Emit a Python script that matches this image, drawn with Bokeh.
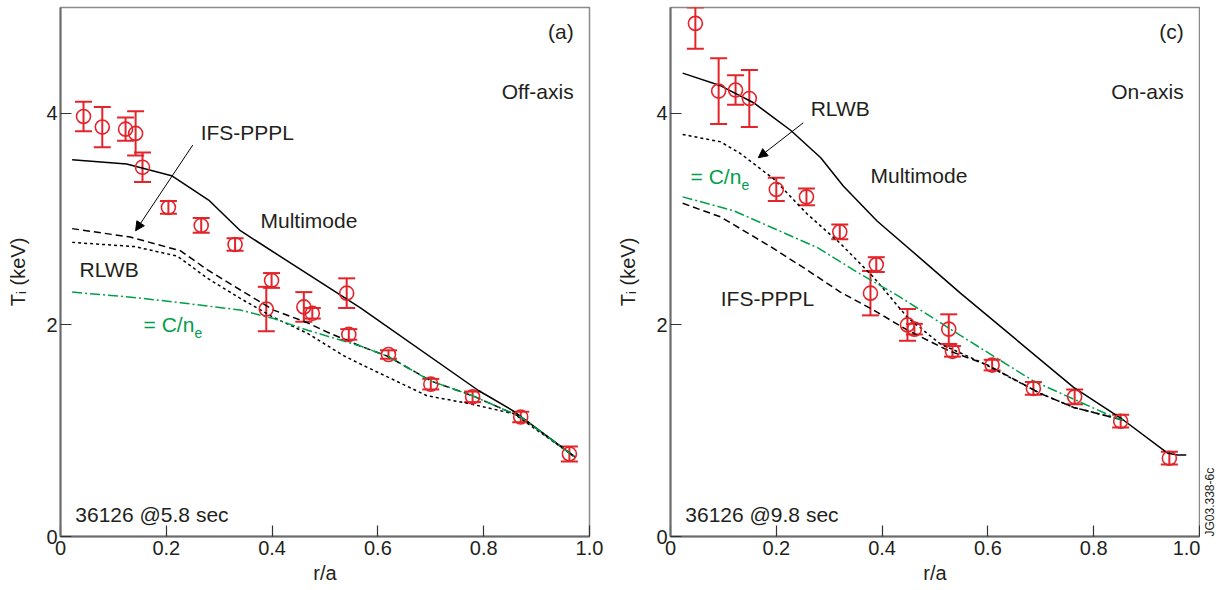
import math
from bokeh.plotting import figure
from bokeh.layouts import row
from bokeh.models import (ColumnDataSource, Whisker, TeeHead, Label, Arrow,
                          NormalHead, FixedTicker, Range1d, Title)
from bokeh.embed import file_html
from bokeh.resources import INLINE

# ---------------- data: panel (a) Off-axis, 36126 @5.8 sec ----------------
a_r = [0.0435, 0.079, 0.123, 0.142, 0.155, 0.204, 0.266, 0.330, 0.389, 0.399,
       0.460, 0.476, 0.541, 0.545, 0.620, 0.700, 0.779, 0.870, 0.962]
a_ti = [3.97, 3.87, 3.85, 3.81, 3.49, 3.11, 2.94, 2.76, 2.15, 2.42,
        2.17, 2.11, 2.30, 1.91, 1.72, 1.44, 1.32, 1.13, 0.78]
a_err = [0.14, 0.19, 0.11, 0.21, 0.14, 0.06, 0.07, 0.06, 0.21, 0.07,
         0.14, 0.05, 0.14, 0.05, 0.04, 0.05, 0.05, 0.05, 0.07]

a_mm_r = [0.022, 0.125, 0.21, 0.28, 0.34, 0.567, 0.79, 0.855, 0.973]
a_mm_ti = [3.56, 3.52, 3.41, 3.18, 2.89, 2.16, 1.38, 1.19, 0.75]

a_ifs_r = [0.022, 0.132, 0.227, 0.278, 0.34, 0.403, 0.467, 0.505, 0.567, 0.62,
           0.70, 0.779, 0.87, 0.973]
a_ifs_ti = [2.91, 2.83, 2.70, 2.52, 2.33, 2.14, 2.02, 1.93, 1.80, 1.70,
            1.47, 1.33, 1.13, 0.75]

a_rlwb_r = [0.022, 0.14, 0.221, 0.278, 0.34, 0.403, 0.467, 0.535, 0.567, 0.693,
            0.769, 0.857, 0.973]
a_rlwb_ti = [2.78, 2.74, 2.65, 2.44, 2.25, 2.07, 1.92, 1.71, 1.63, 1.33,
             1.26, 1.16, 0.75]

a_cn_r = [0.022, 0.138, 0.227, 0.34, 0.403, 0.467, 0.567, 0.62, 0.70, 0.779,
          0.87, 0.973]
a_cn_ti = [2.31, 2.26, 2.21, 2.14, 2.06, 1.95, 1.80, 1.70, 1.47, 1.33,
           1.13, 0.75]

# ---------------- data: panel (c) On-axis, 36126 @9.8 sec ----------------
c_r = [0.047, 0.091, 0.123, 0.149, 0.200, 0.257, 0.320, 0.389, 0.378, 0.448,
       0.461, 0.526, 0.533, 0.608, 0.686, 0.764, 0.851, 0.943]
c_ti = [4.85, 4.21, 4.22, 4.14, 3.28, 3.21, 2.88, 2.57, 2.30, 2.00,
        1.96, 1.96, 1.75, 1.62, 1.40, 1.32, 1.09, 0.74]
c_err = [0.24, 0.31, 0.14, 0.27, 0.11, 0.08, 0.07, 0.07, 0.21, 0.15,
         0.05, 0.14, 0.05, 0.05, 0.06, 0.07, 0.06, 0.06]

c_mm_r = [0.023, 0.095, 0.157, 0.227, 0.284, 0.327, 0.391, 0.486, 0.548, 0.762,
          0.851, 0.939, 0.958, 0.975]
c_mm_ti = [4.38, 4.26, 4.10, 3.84, 3.58, 3.31, 2.98, 2.57, 2.30, 1.41,
           1.12, 0.79, 0.77, 0.77]

c_ifs_r = [0.023, 0.095, 0.189, 0.258, 0.321, 0.384, 0.448, 0.524, 0.60, 0.70,
           0.762, 0.855]
c_ifs_ti = [3.15, 3.02, 2.74, 2.52, 2.31, 2.14, 1.95, 1.76, 1.62, 1.35,
            1.22, 1.10]

c_rlwb_r = [0.023, 0.095, 0.132, 0.195, 0.258, 0.321, 0.384, 0.448, 0.51, 0.586,
            0.70, 0.762, 0.855]
c_rlwb_ti = [3.80, 3.73, 3.62, 3.38, 3.05, 2.77, 2.45, 2.07, 1.82, 1.65,
             1.35, 1.22, 1.10]

c_cn_r = [0.023, 0.119, 0.278, 0.359, 0.435, 0.548, 0.686, 0.837, 0.855]
c_cn_ti = [3.21, 3.08, 2.73, 2.48, 2.26, 1.90, 1.47, 1.13, 1.10]

x_ticks = [0, 0.2, 0.4, 0.6, 0.8, 1.0]
x_tick_labels = ["0", "0.2", "0.4", "0.6", "0.8", "1.0"]
y_ticks = [0, 2, 4]
y_tick_labels = ["0", "2", "4"]

RED = "#e3242b"
GREEN = "#00a04b"
INK = "#231f20"
FONT = "Liberation Sans"
Y_MAX = 5.0
PX_X = 529.0   # frame width px
PX_Y = 529.0 / Y_MAX  # px per keV


def lab(p, x, y, text, size=21, align="left", baseline="middle", color=INK):
    p.add_layout(Label(x=x, y=y, text=text, text_font=FONT,
                       text_font_size=f"{size}px", text_color=color,
                       text_align=align, text_baseline=baseline))


def panel(width, border_right, r, ti, err, mm, ifs, rlwb, cn, texts,
          cn_pos, arrow, tag, mode, stamp):
    p = figure(width=width, height=590, output_backend="svg",
               toolbar_location=None, x_range=Range1d(0, 1.0),
               y_range=Range1d(0, Y_MAX), min_border_left=60,
               min_border_right=border_right, min_border_top=7,
               min_border_bottom=54, background_fill_color="white",
               border_fill_color="white")
    p.grid.grid_line_color = None
    p.outline_line_color = "#8a8a8a"
    p.outline_line_width = 1.5

    for ax in (p.xaxis[0], p.yaxis[0]):
        ax.axis_line_color = "#6a6a6a"
        ax.axis_line_width = 2
        ax.major_tick_in = 11
        ax.major_tick_out = 0
        ax.major_tick_line_color = "#333333"
        ax.major_tick_line_width = 1.2
        ax.minor_tick_line_color = None
        ax.major_label_text_font = FONT
        ax.major_label_text_font_size = "20px"
        ax.major_label_text_color = INK
        ax.axis_label_text_font = FONT
        ax.axis_label_text_font_size = "20px"
        ax.axis_label_text_font_style = "normal"
        ax.axis_label_text_color = INK
    p.xaxis.ticker = FixedTicker(ticks=x_ticks)
    p.xaxis.major_label_overrides = dict(zip(x_ticks, x_tick_labels))
    p.xaxis.major_label_standoff = 4
    p.xaxis.axis_label = "r/a"
    p.xaxis.axis_label_standoff = 4
    p.yaxis.ticker = FixedTicker(ticks=y_ticks)
    p.yaxis.major_label_overrides = dict(zip(y_ticks, y_tick_labels))
    p.yaxis.major_label_standoff = 3
    p.yaxis.axis_label = "T\u1d62 (keV)"
    p.yaxis.axis_label_standoff = 14

    # model curves
    p.line(mm[0], mm[1], line_color="black", line_width=1.5)
    p.line(ifs[0], ifs[1], line_color="black", line_width=1.5, line_dash="7 4")
    p.line(rlwb[0], rlwb[1], line_color="black", line_width=1.5, line_dash="3 3")
    p.line(cn[0], cn[1], line_color=GREEN, line_width=1.5,
           line_dash="10 3 2 3")

    # measured points with error bars
    src = ColumnDataSource(dict(
        x=r, y=ti,
        lower=[v - e for v, e in zip(ti, err)],
        upper=[min(v + e, Y_MAX) for v, e in zip(ti, err)]))
    p.add_layout(Whisker(base="x", upper="upper", lower="lower", source=src,
                         line_color=RED, line_width=2,
                         upper_head=TeeHead(size=17, line_color=RED, line_width=2),
                         lower_head=TeeHead(size=17, line_color=RED, line_width=2)))
    p.scatter("x", "y", source=src, marker="circle", size=14,
              fill_color=None, line_color=RED, line_width=1.6)

    # annotations
    for (tx, x, y) in texts:
        lab(p, x, y, tx)
    lab(p, cn_pos[0], cn_pos[1], "= C/n", color=GREEN)
    lab(p, cn_pos[0] + 51 / PX_X, cn_pos[1] - 8 / PX_Y, "e", size=14,
        color=GREEN)
    p.add_layout(Arrow(end=NormalHead(size=9, fill_color="black",
                                      line_color="black", line_width=1),
                       x_start=arrow[0], y_start=arrow[1], x_end=arrow[2],
                       y_end=arrow[3], line_color="black", line_width=1))
    lab(p, 0.97, (536 - 31) / PX_Y, tag, align="right")
    lab(p, 0.97, (536 - 91) / PX_Y, mode, align="right")
    lab(p, 0.028, 0.21, stamp)
    return p


p1 = panel(610, 21, a_r, a_ti, a_err,
           (a_mm_r, a_mm_ti), (a_ifs_r, a_ifs_ti), (a_rlwb_r, a_rlwb_ti),
           (a_cn_r, a_cn_ti),
           [("IFS-PPPL", 0.265, 3.82), ("Multimode", 0.378, 2.99),
            ("RLWB", 0.036, 2.52)],
           (0.157, 2.0), (0.25, 3.70, 0.142, 2.89),
           "(a)", "Off-axis", "36126 @5.8 sec")

p2 = panel(590, 1, c_r, c_ti, c_err,
           (c_mm_r, c_mm_ti), (c_ifs_r, c_ifs_ti), (c_rlwb_r, c_rlwb_ti),
           (c_cn_r, c_cn_ti),
           [("RLWB", 0.265, 4.05), ("Multimode", 0.378, 3.41),
            ("IFS-PPPL", 0.095, 2.25)],
           (0.038, 3.40), (0.251, 3.91, 0.166, 3.58),
           "(c)", "On-axis", "36126 @9.8 sec")

# narrow strip holding the figure code, written bottom-to-top
p3 = figure(width=25, height=590, output_backend="svg", toolbar_location=None,
            x_axis_type=None, y_axis_type=None, min_border_left=0,
            min_border_right=0, min_border_top=0, min_border_bottom=53,
            outline_line_color=None, background_fill_color="white",
            border_fill_color="white")
p3.grid.grid_line_color = None
p3.add_layout(Title(text="JG03.338-6c", align="left", text_font=FONT,
                    text_font_size="12px", text_font_style="normal",
                    text_color=INK, standoff=0, offset=0), "left")

layout = row(p1, p2, p3)
open("out.html", "w").write(file_html(layout, INLINE))
